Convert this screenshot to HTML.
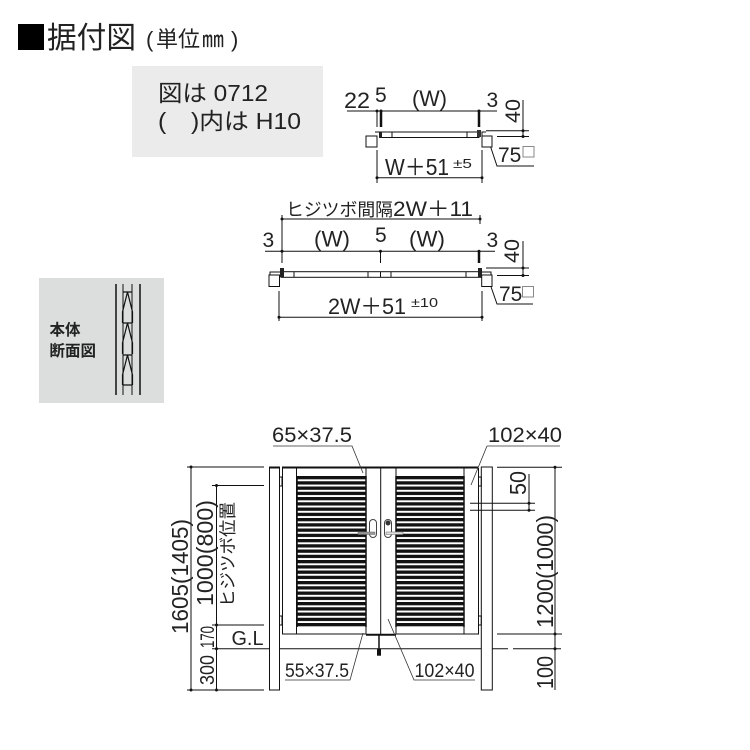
<!DOCTYPE html>
<html><head><meta charset="utf-8"><style>
html,body{margin:0;padding:0;background:#fff}
svg{display:block}
text{font-family:"Liberation Sans","Noto Sans CJK JP",sans-serif;fill:#222}
.l{stroke:#111;stroke-width:1;fill:none}
.w{stroke:#111;stroke-width:1;fill:#fff}
.t{stroke:#111;stroke-width:2.5;fill:none}
.h{stroke:#333;stroke-width:.8;fill:none}
</style></head><body>
<svg width="750" height="750" viewBox="0 0 750 750" xmlns="http://www.w3.org/2000/svg">
<defs>
<pattern id="sl" x="0" y="476" width="10" height="5.25" patternUnits="userSpaceOnUse"><rect width="10" height="3.300" fill="#111"/></pattern>
</defs>
<!-- title -->
<rect x="18" y="24" width="26" height="26" fill="#000"/>
<text x="47" y="48" font-size="30" textLength="89" lengthAdjust="spacingAndGlyphs">据付図</text>
<text y="47" font-size="22" fill="#333"><tspan x="146">(</tspan><tspan x="156">単位</tspan><tspan x="202">㎜</tspan><tspan x="231">)</tspan></text>
<rect x="132" y="66" width="191" height="91" fill="#ebebeb"/>
<text x="158" y="101" font-size="23" textLength="110" lengthAdjust="spacingAndGlyphs">図は 0712</text>
<text x="158" y="129" font-size="23" textLength="143" lengthAdjust="spacingAndGlyphs">(　)内は H10</text>

<!-- top small plan -->
<g>
<path class="l" d="M347 111H497M377 111V127M523 100V137M486 130.700H529M497 136.500H529M377 150V183M482 150V183M377 177.700H482M489 142L497 166H534"/>
<path class="t" d="M381 111V127M479 111V127"/>
<rect class="l" x="381" y="132" width="98" height="5.500" stroke-width="1.200"/>
<path class="l" d="M392 132V137.500M467 132V137.500M375 132H381M482 136V132H486"/>
<rect class="w" x="366" y="136" width="11" height="11"/>
<rect class="w" x="482" y="136" width="10" height="11"/>
<rect x="379" y="132" width="3" height="6" fill="#222"/><rect x="477" y="130" width="4" height="7" fill="#333"/>
<g fill="#111"><circle cx="377" cy="111" r="1.500"/><circle cx="381" cy="111" r="1.500"/><circle cx="479" cy="111" r="1.500"/><circle cx="523" cy="130.700" r="1.500"/><circle cx="523" cy="136.500" r="1.500"/><circle cx="377" cy="177.700" r="1.500"/><circle cx="482" cy="177.700" r="1.500"/></g>
<text x="344" y="108" font-size="22" textLength="26" lengthAdjust="spacingAndGlyphs">22</text>
<text x="375" y="102" font-size="21">5</text>
<text x="412" y="106" font-size="22" textLength="35" lengthAdjust="spacingAndGlyphs">(W)</text>
<text x="486.500" y="107" font-size="21">3</text>
<text transform="translate(520,123) rotate(-90)" font-size="21" textLength="24" lengthAdjust="spacingAndGlyphs">40</text>
<text x="385" y="175" font-size="23" textLength="64" lengthAdjust="spacingAndGlyphs">W＋51</text>
<text x="453" y="168" font-size="13" textLength="19" lengthAdjust="spacingAndGlyphs">±5</text>
<text x="498" y="162" font-size="21">75</text>
<rect x="523" y="146.500" width="11" height="10.500" fill="#fff" stroke="#888"/>
</g>

<!-- middle plan -->
<g>
<path class="l" d="M282 215V263M265 251.300H495M282 219H480M480 215V224M380.500 251V263M523 241V277M486 268H529M497 275.500H529M279 291V321M482 291V321M279 317.300H482M489 281L497 304H533"/>
<path class="t" d="M479 251V263"/>
<rect class="l" x="281" y="271.700" width="200" height="5.600" stroke-width="1.200"/>
<path class="l" d="M294 272V277M368 272V277M380.500 272V277M391 272V277M466 272V277M270 275V272H281M481 272H491V275"/>
<rect class="w" x="269" y="275" width="10.500" height="11.500"/>
<rect class="w" x="481.700" y="275" width="10.300" height="11.500"/>
<rect x="280" y="268" width="4" height="9" fill="#222"/><rect x="478" y="268" width="4" height="9" fill="#222"/>
<g fill="#111"><circle cx="282" cy="219" r="1.500"/><circle cx="480" cy="219" r="1.500"/><circle cx="282" cy="251.300" r="1.500"/><circle cx="380.500" cy="251.300" r="1.500"/><circle cx="479" cy="251.300" r="1.500"/><circle cx="523" cy="268" r="1.500"/><circle cx="523" cy="275.500" r="1.500"/><circle cx="279" cy="317.300" r="1.500"/><circle cx="482" cy="317.300" r="1.500"/></g>
<text x="286" y="216" font-size="18" textLength="107" lengthAdjust="spacingAndGlyphs">ヒジツボ間隔</text>
<text x="393" y="216" font-size="21" textLength="80" lengthAdjust="spacingAndGlyphs">2W＋11</text>
<text x="262.500" y="247" font-size="21">3</text>
<text x="314" y="246.500" font-size="22" textLength="36" lengthAdjust="spacingAndGlyphs">(W)</text>
<text x="375" y="242" font-size="21">5</text>
<text x="409" y="246.500" font-size="22" textLength="36" lengthAdjust="spacingAndGlyphs">(W)</text>
<text x="486.500" y="247" font-size="21">3</text>
<text transform="translate(519,263) rotate(-90)" font-size="21" textLength="24" lengthAdjust="spacingAndGlyphs">40</text>
<text x="328" y="314" font-size="22" textLength="78" lengthAdjust="spacingAndGlyphs">2W＋51</text>
<text x="411" y="307" font-size="13" textLength="27" lengthAdjust="spacingAndGlyphs">±10</text>
<text x="499" y="301" font-size="21">75</text>
<rect x="522.500" y="286.500" width="11" height="10.500" fill="#fff" stroke="#888"/>
</g>

<!-- section panel -->
<rect x="39" y="278" width="125" height="125" fill="#dcdddd"/>
<text x="49.500" y="335" font-size="15.500" font-weight="bold">本体</text>
<text x="49.500" y="356" font-size="15.500" font-weight="bold">断面図</text>
<g stroke="#111" fill="none">
<path stroke-width="1.500" d="M116 284V395M140 284V395"/>
<path stroke-width="1" d="M123 284V395M132 284V395"/>
<path stroke-width="1.200" d="M123 292H132M127.500 292L122.500 312V323M127.500 292L132.500 312V323M123 323H132M127.500 323L122.500 343V354M127.500 323L132.500 343V354M123 355H132M127.500 355L122.500 375V385M127.500 355L132.500 375V385M123 385H132"/>
</g>

<!-- front elevation -->
<g>
<path class="l" d="M187 467H264M212 485.500H264M191 467V690M216.500 485V690M212 625H264M212 648.700H269M187 690H264"/>
<rect class="l" x="269.500" y="467" width="10" height="223" fill="#fff"/>
<rect class="l" x="481.300" y="467" width="11" height="223" fill="#fff"/>
<!-- G.L line -->
<path class="l" d="M279.500 648.700H481.300M492.300 648.700H508M513 648.700H561"/>
<!-- frame -->
<path class="l" d="M282.500 468V634H366M478.500 468V634H396M296.500 468V634M366 468V634M396 468V634M464 468V634M380.700 468V634"/>
<path d="M269 467.500H279M282 467.500H478" stroke="#111" stroke-width="2" fill="none"/>
<path d="M366 634.800H396" stroke="#111" stroke-width="2"/>
<rect x="296.700" y="476" width="69.600" height="151" fill="url(#sl)"/>
<rect x="395.700" y="476" width="68.600" height="151" fill="url(#sl)"/>
<path d="M297 476V627M366 476V627M396 476V627M464 476V627" stroke="#111" stroke-width="1.500"/>
<!-- hinges -->
<rect class="l" x="279.500" y="477" width="2.500" height="9"/><rect class="l" x="279.500" y="616" width="2.500" height="9"/>
<rect class="l" x="478.500" y="477" width="2.800" height="9"/><rect class="l" x="478.500" y="616" width="2.800" height="9"/>
<!-- drop rod -->
<path d="M379 634V649" stroke="#111" stroke-width="1.500"/><rect x="377" y="648.700" width="4" height="7" fill="#111"/>
<!-- handles -->
<rect x="369.500" y="519.500" width="7" height="18" rx="3.500" fill="#fff" stroke="#444"/>
<rect x="384.500" y="519.500" width="7" height="18" rx="3.500" fill="#fff" stroke="#444"/>
<circle cx="388" cy="523" r="2.500" fill="#333"/>
<rect x="358" y="532" width="17" height="2.500" fill="#999" stroke="#666" stroke-width=".5"/>
<rect x="386" y="532" width="17" height="2.500" fill="#ddd" stroke="#666" stroke-width=".5"/>
<!-- right dims -->
<path class="l" d="M497 467.300H562M470 503.300H535M470 510.300H535M529 474V510M555 467V690M497 634H562"/>
<g fill="#111"><circle cx="191" cy="467" r="1.500"/><circle cx="216.500" cy="485.500" r="1.500"/><circle cx="216.500" cy="625" r="1.500"/><circle cx="216.500" cy="648.700" r="1.500"/><circle cx="191" cy="690" r="1.500"/><circle cx="216.500" cy="690" r="1.500"/><circle cx="555" cy="467.300" r="1.500"/><circle cx="529" cy="503.300" r="1.500"/><circle cx="529" cy="510.300" r="1.500"/><circle cx="555" cy="634" r="1.500"/><circle cx="555" cy="648.700" r="1.500"/></g>
<!-- leaders -->
<path class="h" d="M273 446H352L363 473M487 446H560M487 446L471 485M285 680H350L363 633M388 619L414 680H475"/>
<text x="272" y="442" font-size="21" textLength="80" lengthAdjust="spacingAndGlyphs">65×37.5</text>
<text x="488" y="442" font-size="21" textLength="74" lengthAdjust="spacingAndGlyphs">102×40</text>
<text x="285" y="677" font-size="19.500" textLength="64" lengthAdjust="spacingAndGlyphs">55×37.5</text>
<text x="414.500" y="677" font-size="19.500" textLength="60" lengthAdjust="spacingAndGlyphs">102×40</text>
<text x="231.500" y="645" font-size="20" textLength="32" lengthAdjust="spacingAndGlyphs">G.L</text>
<g font-size="23">
<text transform="translate(188,634) rotate(-90)" textLength="115" lengthAdjust="spacingAndGlyphs">1605(1405)</text>
<text transform="translate(213,606) rotate(-90)" textLength="106" lengthAdjust="spacingAndGlyphs">1000(800)</text>
<text transform="translate(553,628) rotate(-90)" textLength="113" lengthAdjust="spacingAndGlyphs">1200(1000)</text>
<text transform="translate(553,689) rotate(-90)" textLength="33" lengthAdjust="spacingAndGlyphs">100</text>
<text transform="translate(526,495) rotate(-90)" textLength="24" lengthAdjust="spacingAndGlyphs">50</text>
</g>
<text transform="translate(214,648) rotate(-90)" font-size="19" textLength="22" lengthAdjust="spacingAndGlyphs">170</text>
<text transform="translate(214,685) rotate(-90)" font-size="20" textLength="30" lengthAdjust="spacingAndGlyphs">300</text>
<text transform="translate(234,607) rotate(-90)" font-size="17.500" textLength="105" lengthAdjust="spacingAndGlyphs">ヒジツボ位置</text>
</g>
</svg>
</body></html>
